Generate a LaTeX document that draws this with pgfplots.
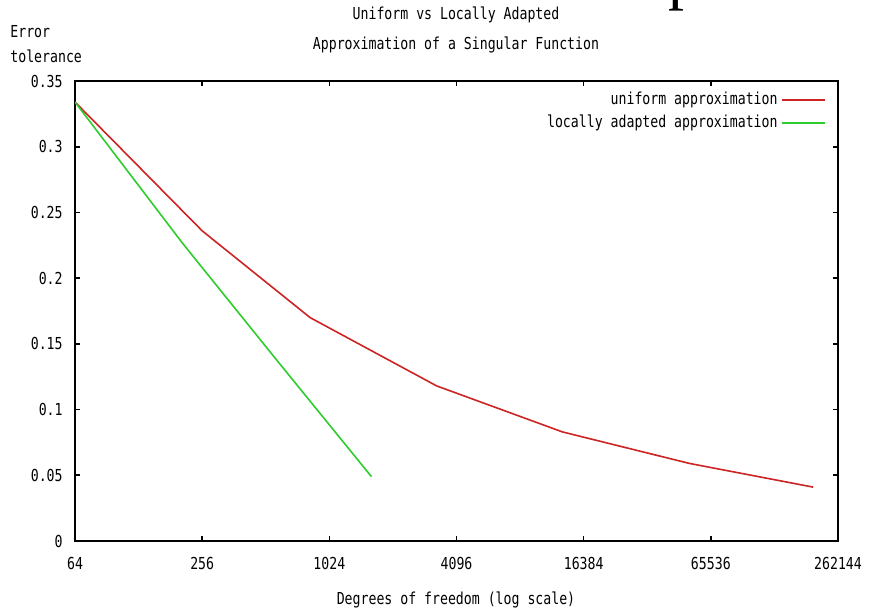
\documentclass[border=0pt]{standalone}
\usepackage{fontspec}
\setmainfont{DejaVu Sans Mono}[FakeStretch=0.8]
\newfontfamily\bigserif{Liberation Serif}
\usepackage{pgfplots}
\pgfplotsset{compat=1.18}
\definecolor{gpred}{RGB}{205,35,35}
\definecolor{gpgreen}{RGB}{45,205,45}
\begin{document}
\fontsize{8.25}{10}\selectfont
\begin{tikzpicture}
\useasboundingbox (-37.5pt,-35.5pt) rectangle (397pt,270.5pt);
\begin{axis}[
    scale only axis,
    width=381.5pt, height=230pt,
    xmode=log, log basis x=2,
    xmin=64, xmax=262144,
    ymin=0, ymax=0.35,
    xtick={64,256,1024,4096,16384,65536,262144},
    xticklabels={64,256,1024,4096,16384,65536,262144},
    ytick={0,0.05,0.1,0.15,0.2,0.25,0.3,0.35},
    yticklabels={0,0.05,0.1,0.15,0.2,0.25,0.3,0.35},
    /pgf/number format/assume math mode=true,
    tick label style={font=\fontsize{8.25}{10}\selectfont},
    xticklabel style={anchor=center, yshift=-11pt},
    yticklabel style={anchor=east, inner sep=0pt, xshift=-6pt},
    major tick length=2.5pt,
    minor tick num=0,
    tick style={black, line width=0.8pt},
    axis line style={black, line width=1.2pt},
    legend plot pos=right,
    legend cell align=right,
    legend image code/.code={\draw[mark repeat=2,mark phase=2,#1] plot coordinates {(0pt,0pt) (10.75pt,0pt) (21.5pt,0pt)};},
    legend style={draw=none, fill=none, inner sep=0pt,
        at={(axis description cs:0.985,0.985)}, anchor=north east,
        row sep=0pt, font=\fontsize{8.25}{10}\selectfont},
]
\addplot[gpred, line width=0.8pt] coordinates {
    (64,0.334) (256,0.236) (830,0.170) (3300,0.118)
    (13000,0.083) (52000,0.059) (200000,0.041)
};
\addlegendentry{uniform approximation}
\addplot[gpgreen, line width=0.8pt] coordinates {
    (64,0.334) (208,0.226) (568,0.139) (1620,0.049)
};
\addlegendentry{locally adapted approximation}
\end{axis}
\node at (190.5pt,263pt) {Uniform vs Locally Adapted};
\node at (190.5pt,248pt) {Approximation of a Singular Function};
\node[anchor=west, inner sep=0pt] at (-32.5pt,254.5pt) {Error};
\node[anchor=west, inner sep=0pt] at (-32.5pt,242.5pt) {tolerance};
\node at (190.5pt,-29.5pt) {Degrees of freedom (log scale)};
\node[anchor=base, inner sep=0pt, font=\bigserif\fontsize{32}{34}\selectfont] at (304.5pt,271.5pt) {p};
\end{tikzpicture}
\end{document}
